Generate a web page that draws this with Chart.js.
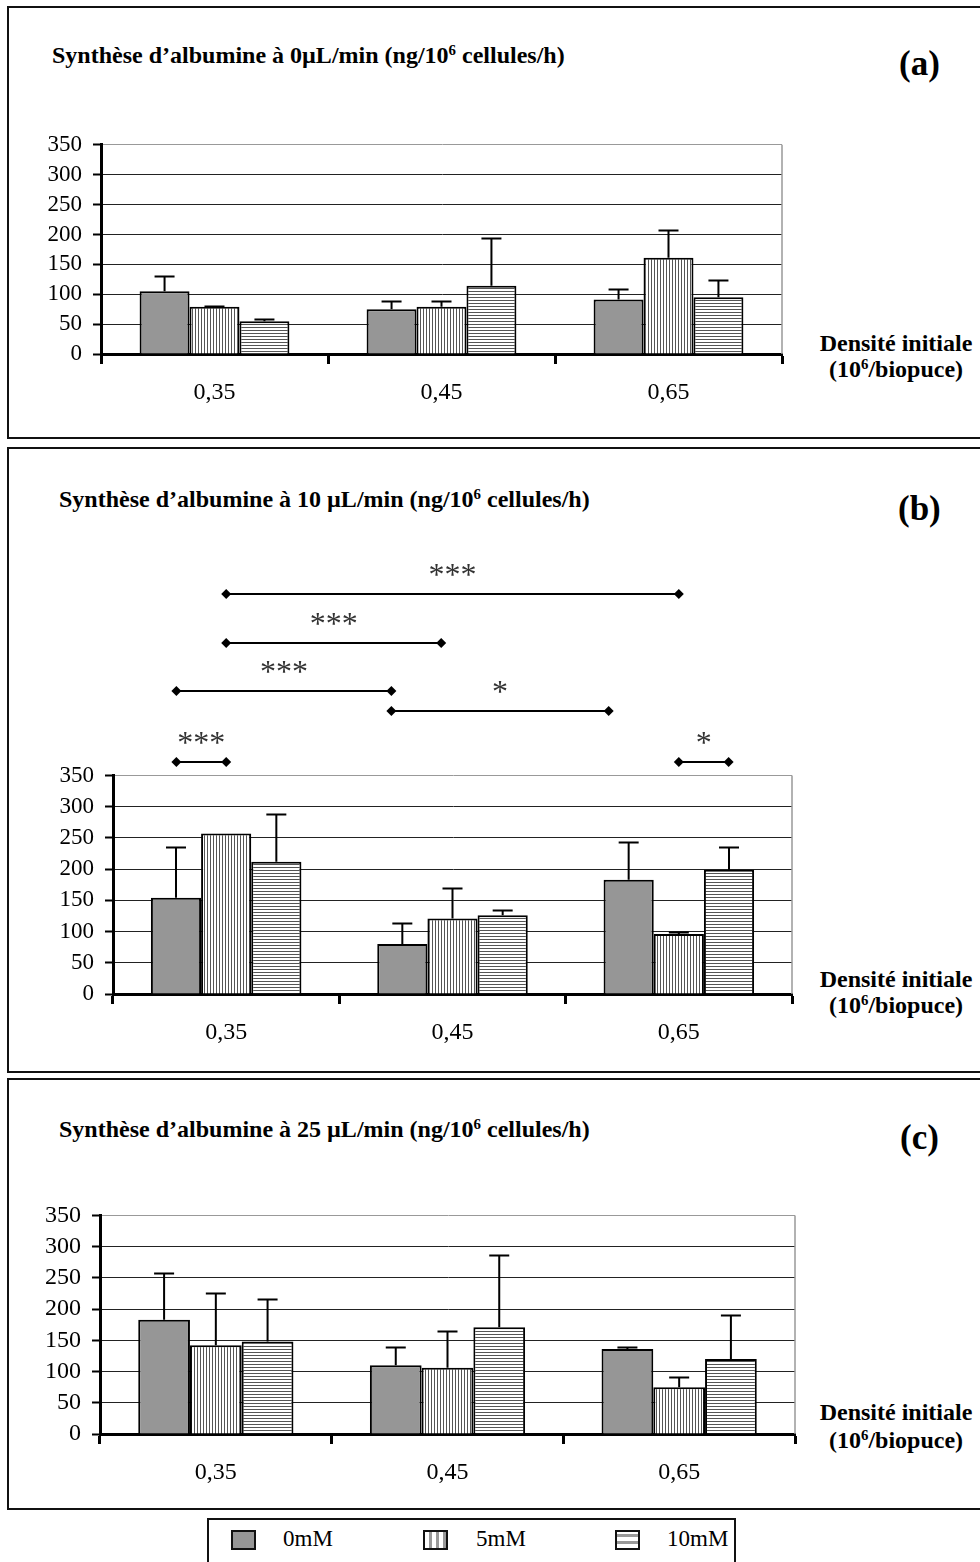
<!DOCTYPE html>
<html lang="fr">
<head>
<meta charset="utf-8">
<title>Synthèse d'albumine</title>
<script src="https://cdn.jsdelivr.net/npm/chart.js@4.4.1/dist/chart.umd.min.js"></script>
<style>
  html, body { margin: 0; padding: 0; background: #fff; }
  body {
    position: relative; width: 980px; height: 1562px; overflow: hidden;
    font-family: 'Liberation Serif', 'Times New Roman', serif; color: #000;
  }
  .panel { position: absolute; left: 7px; width: 990px; border: 2px solid #111; box-sizing: border-box; }
  .t { position: absolute; white-space: nowrap; line-height: 1; }
  .title { font-size: 24px; font-weight: bold; }
  .tag { font-size: 35px; font-weight: bold; }
  .dens { font-size: 24px; font-weight: bold; width: 200px; left: 796px; text-align: center; }
  sup { font-size: 0.62em; line-height: 0; vertical-align: 0.55em; }
  canvas { position: absolute; }
  .legend { position: absolute; left: 207px; top: 1518px; width: 529px; height: 80px; border: 2px solid #111; box-sizing: border-box; }
  .sw { position: absolute; top: 1530px; width: 25px; height: 20px; border: 2px solid #111; box-sizing: border-box; }
  .lt { font-size: 23px; }
</style>
</head>
<body>

<!-- panel frames -->
<div class="panel" style="top:6px;height:433px"></div>
<div class="panel" style="top:447px;height:626px"></div>
<div class="panel" style="top:1078px;height:432px"></div>

<!-- (a) -->
<div class="t title" style="left:52px;top:43px">Synthèse d’albumine à 0µL/min (ng/10<sup>6</sup> cellules/h)</div>
<div class="t tag" style="left:899px;top:46px">(a)</div>
<div class="t dens" style="top:331px">Densité initiale</div>
<div class="t dens" style="top:357px">(10<sup>6</sup>/biopuce)</div>
<canvas id="chartA" width="771" height="294" style="left:21px;top:120px"></canvas>

<!-- (b) -->
<div class="t title" style="left:59px;top:487px">Synthèse d’albumine à 10 µL/min (ng/10<sup>6</sup> cellules/h)</div>
<div class="t tag" style="left:898px;top:491px">(b)</div>
<div class="t dens" style="top:967px">Densité initiale</div>
<div class="t dens" style="top:993px">(10<sup>6</sup>/biopuce)</div>
<canvas id="chartB" width="769" height="514" style="left:33px;top:540px"></canvas>

<!-- (c) -->
<div class="t title" style="left:59px;top:1117px">Synthèse d’albumine à 25 µL/min (ng/10<sup>6</sup> cellules/h)</div>
<div class="t tag" style="left:900px;top:1120px">(c)</div>
<div class="t dens" style="top:1400px">Densité initiale</div>
<div class="t dens" style="top:1428px">(10<sup>6</sup>/biopuce)</div>
<canvas id="chartC" width="785" height="304" style="left:20px;top:1190px"></canvas>

<!-- shared legend -->
<div class="legend"></div>
<div id="legendItems"></div>

<script>
const SERIF = "'Liberation Serif', 'Times New Roman', serif";

// ─── Data ─────────────────────────────────────────────────────────────────────
const densities   = ['0,35', '0,45', '0,65'];
const seriesNames = ['0mM', '5mM', '10mM'];
const yMin = 0, yMax = 350, yStep = 50;

// (a) 0 µL/min — mean and upper error (SD)
const a0mM  = [105, 75, 91],   a0mMErr  = [26, 13, 17];
const a5mM  = [79, 79, 161],   a5mMErr  = [2, 9, 46];
const a10mM = [55, 114, 95],   a10mMErr = [3, 80, 29];

// (b) 10 µL/min
const b0mM  = [154, 80, 183],  b0mMErr  = [81, 33, 61];
const b5mM  = [257, 121, 96],  b5mMErr  = [0, 49, 4];
const b10mM = [212, 126, 199], b10mMErr = [77, 8, 36];

// (c) 25 µL/min
const c0mM  = [183, 110, 136], c0mMErr  = [74, 29, 3];
const c5mM  = [142, 106, 75],  c5mMErr  = [83, 59, 17];
const c10mM = [148, 171, 120], c10mMErr = [68, 115, 70];

// (b) significance brackets: ends in category units, height in y units
const sigFrom  = [0,     0,     -0.22, 0.73, -0.22, 2.0];
const sigTo    = [2.0,   0.95,  0.73,  1.69, 0,     2.22];
const sigLevel = [640,   563,   486,   453,  372,   372];
const sigStars = ['***', '***', '***', '*',  '***', '*'];

// ─── Fills ────────────────────────────────────────────────────────────────────
function stripes(ctx, dir) {
  const tile = document.createElement('canvas');
  tile.width = 3; tile.height = 3;
  const g = tile.getContext('2d');
  g.fillStyle = '#fff'; g.fillRect(0, 0, 3, 3);
  g.fillStyle = '#555';
  if (dir === 'v') g.fillRect(0, 0, 1, 3); else g.fillRect(0, 0, 3, 1);
  return ctx.createPattern(tile, 'repeat');
}

// ─── Plugins ──────────────────────────────────────────────────────────────────
const plotFrame = {
  id: 'plotFrame',
  beforeDatasetsDraw(chart) {
    const { ctx, chartArea: a } = chart;
    ctx.save();
    ctx.strokeStyle = '#999'; ctx.lineWidth = 1.5;
    ctx.beginPath(); ctx.moveTo(a.right, a.top); ctx.lineTo(a.right, a.bottom); ctx.stroke();
    ctx.restore();
  }
};

const errorBars = {
  id: 'errorBars',
  afterDatasetsDraw(chart) {
    const { ctx, scales: { y } } = chart;
    ctx.save();
    ctx.strokeStyle = '#000'; ctx.lineWidth = 2;
    chart.data.datasets.forEach((ds, di) => {
      chart.getDatasetMeta(di).data.forEach((bar, i) => {
        const e = ds.errors[i];
        if (!e) return;
        const top = Math.round(y.getPixelForValue(ds.data[i] + e)) + 0.5;
        ctx.beginPath();
        ctx.moveTo(bar.x, bar.y); ctx.lineTo(bar.x, top);
        ctx.moveTo(bar.x - 10, top); ctx.lineTo(bar.x + 10, top);
        ctx.stroke();
      });
    });
    ctx.restore();
  }
};

const sigBrackets = {
  id: 'sigBrackets',
  afterDatasetsDraw(chart) {
    const { ctx, scales: { x, y } } = chart;
    ctx.save();
    ctx.lineWidth = 2; ctx.strokeStyle = '#000';
    ctx.font = '32px ' + SERIF; ctx.textAlign = 'center'; ctx.textBaseline = 'alphabetic';
    const diamond = (cx, cy) => {
      ctx.beginPath();
      ctx.moveTo(cx - 5, cy); ctx.lineTo(cx, cy - 5); ctx.lineTo(cx + 5, cy); ctx.lineTo(cx, cy + 5);
      ctx.closePath(); ctx.fill();
    };
    sigFrom.forEach((f, i) => {
      const x1 = x.getPixelForValue(f), x2 = x.getPixelForValue(sigTo[i]);
      const yy = Math.round(y.getPixelForValue(sigLevel[i]));
      ctx.fillStyle = '#000';
      ctx.beginPath(); ctx.moveTo(x1, yy); ctx.lineTo(x2, yy); ctx.stroke();
      diamond(x1, yy); diamond(x2, yy);
      ctx.fillStyle = '#333';
      ctx.fillText(sigStars[i], (x1 + x2) / 2, yy - 9);
    });
    ctx.restore();
  }
};

// ─── Panel builder ────────────────────────────────────────────────────────────
function buildPanel(id, series, errs, opt, extra = []) {
  const cv = document.getElementById(id);
  const ctx = cv.getContext('2d');
  const fills = ['#969696', stripes(ctx, 'v'), stripes(ctx, 'h')];

  return new Chart(cv, {
    type: 'bar',
    data: {
      labels: densities,
      datasets: series.map((vals, i) => ({
        label: seriesNames[i],
        data: vals,
        errors: errs[i],
        backgroundColor: fills[i],
        borderColor: '#000',
        borderWidth: 2,
        categoryPercentage: opt.catPct,
        barPercentage: 1,
      }))
    },
    options: {
      responsive: false, animation: false,
      layout: { padding: { top: opt.padTop, right: 10, left: 0, bottom: 0 } },
      plugins: { legend: { display: false }, tooltip: { enabled: false } },
      scales: {
        x: {
          grid: { offset: true, drawOnChartArea: false, tickLength: 10, tickWidth: 3, tickColor: '#000' },
          border: { color: '#000', width: 3 },
          ticks: { font: { family: SERIF, size: 24 }, color: '#000', padding: 14, maxRotation: 0 },
          afterFit: s => { s.height = 60; }
        },
        y: {
          min: yMin, max: yMax,
          ticks: { stepSize: yStep, autoSkip: false, font: { family: SERIF, size: opt.yFont }, color: '#000', padding: 11 },
          grid: {
            color: c => (c.tick && c.tick.value === yMax ? '#999' : '#222'),
            lineWidth: 1, tickLength: 8, tickWidth: 2, tickColor: '#000'
          },
          border: { color: '#000', width: 3 },
          afterFit: s => { s.width = 80; }
        }
      }
    },
    plugins: [plotFrame, errorBars, ...extra]
  });
}

buildPanel('chartA', [a0mM, a5mM, a10mM], [a0mMErr, a5mMErr, a10mMErr], { catPct: 0.66, padTop: 22, yFont: 23 });
buildPanel('chartB', [b0mM, b5mM, b10mM], [b0mMErr, b5mMErr, b10mMErr], { catPct: 0.665, padTop: 235.5, yFont: 23 }, [sigBrackets]);
buildPanel('chartC', [c0mM, c5mM, c10mM], [c0mMErr, c5mMErr, c10mMErr], { catPct: 0.67, padTop: 24, yFont: 24 });

// ─── Legend (shared) ──────────────────────────────────────────────────────────
const legendFills = [
  '#969696',
  'repeating-linear-gradient(90deg, #fff 0 4px, #999 4px 7px)',
  'repeating-linear-gradient(0deg, #fff 0 4px, #999 4px 7px)'
];
const swatchLeft = [231, 423, 615], textLeft = [283, 476, 667];
document.getElementById('legendItems').innerHTML = seriesNames.map((n, i) => `
  <div class="sw" style="left:${swatchLeft[i]}px;background:${legendFills[i]}"></div>
  <div class="t lt" style="left:${textLeft[i]}px;top:1527px">${n}</div>`).join('');
</script>
</body>
</html>
